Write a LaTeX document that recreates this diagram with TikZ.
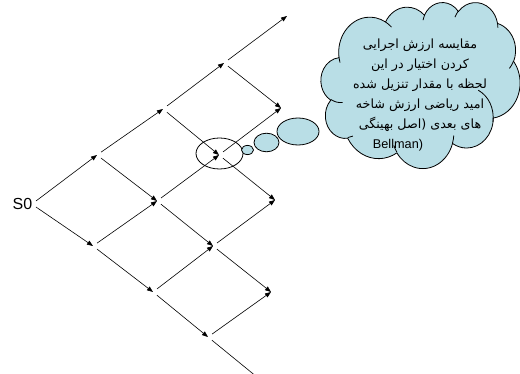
\documentclass[tikz,border=0pt]{standalone}
\usepackage{fontspec}
\setmainfont{Liberation Sans}
\newfontfamily\fa[Script=Arabic]{DejaVu Sans}
\newfontfamily\lat{Liberation Sans}
\TeXXeTstate=1
\usetikzlibrary{arrows.meta,shapes.geometric}
\definecolor{cloudfill}{RGB}{185,222,230}

% One elliptical arc of the cloud outline: name, x radius, y radius,
% start angle and sweep (angles measured on the ellipse, y pointing down)
\newcommand\cloudarcstyle[5]{%
  \pgfmathsetmacro\cloudT{atan2((#2)*sin(#4),(#3)*cos(#4))}%
  \pgfmathsetmacro\cloudD{mod(atan2((#2)*sin((#4)+(#5)),(#3)*cos((#4)+(#5)))-\cloudT+720,360)}%
  \tikzset{#1/.style/.expanded={start angle=\cloudT, delta angle=\cloudD, x radius=#2, y radius=#3}}%
}
% a right-to-left line of the note
\newcommand\rtlline[1]{\hbox{\beginR#1\endR}}

\begin{document}
\begin{tikzpicture}[x=1pt,y=-1pt,
  edge/.style={-{Triangle[length=6pt,width=4.5pt]}, line width=0.6pt, draw=black, shorten <=5pt},
  cloudline/.style={draw=black, line width=0.8pt},
  bubble/.style={ellipse, cloudline, fill=cloudfill, inner sep=0pt}]
\useasboundingbox (0,0) rectangle (520,374);
\clip (0,0) rectangle (520,374);

% lattice points
\node[font=\fontsize{16}{18}\selectfont, inner sep=3.5pt] (s0) at (22.5,204) {S0};
\coordinate (n10) at (97,155);
\coordinate (n11) at (93,246);
\coordinate (n20) at (163,109);
\coordinate (n21) at (157,201);
\coordinate (n22) at (153,292);
\coordinate (n30) at (224,63);
\coordinate (n31) at (219,155);
\coordinate (n32) at (213,246);
\coordinate (n33) at (208,337);
\coordinate (n40) at (287,16);
\coordinate (n41) at (281,108);
\coordinate (n42) at (275,200);
\coordinate (n43) at (271,292);
\coordinate (n44) at (268,386);

% branches
\draw[edge, shorten <=0pt] ([yshift=3pt]s0.east) -- (n10);
\draw[edge, shorten <=0pt] ([yshift=-3pt]s0.east) -- (n11);
\draw[edge] (n10) -- (n20);
\draw[edge] (n10) -- (n21);
\draw[edge] (n11) -- (n21);
\draw[edge] (n11) -- (n22);
\draw[edge] (n20) -- (n30);
\draw[edge] (n20) -- (n31);
\draw[edge] (n21) -- (n31);
\draw[edge] (n21) -- (n32);
\draw[edge] (n22) -- (n32);
\draw[edge] (n22) -- (n33);
\draw[edge] (n30) -- (n40);
\draw[edge] (n30) -- (n41);
\draw[edge] (n31) -- (n41);
\draw[edge] (n31) -- (n42);
\draw[edge] (n32) -- (n42);
\draw[edge] (n32) -- (n43);
\draw[edge] (n33) -- (n43);
\draw[edge] (n33) -- (n44);

% highlighted decision point
\node[ellipse, draw=black, line width=0.8pt, minimum width=47pt, minimum height=31pt, inner sep=0pt] (focus) at (219.5,153.5) {};

% thought bubbles
\node[bubble, minimum width=12pt, minimum height=9.2pt] (b1) at (247.5,150) {};
\node[bubble, minimum width=25pt, minimum height=18.6pt] (b2) at (266.5,142.5) {};
\node[bubble, minimum width=42pt, minimum height=27pt] (b3) at (298,131.5) {};

% cloud callout
\begin{scope}[shift={(321,2)}, x=0.46065pt, y=-0.38426pt]
  \cloudarcstyle{lobeA}{67.53}{91.90}{-190.4875}{123.7805}
  \cloudarcstyle{lobeB}{53.33}{72.67}{-144.1024}{89.9452}
  \cloudarcstyle{lobeC}{43.65}{59.45}{-145.8079}{99.7230}
  \cloudarcstyle{lobeD}{48.57}{65.95}{-130.9861}{117.2417}
  \cloudarcstyle{lobeE}{53.33}{72.73}{-78.7089}{109.0269}
  \cloudarcstyle{lobeF}{67.75}{92.20}{-46.2673}{130.2690}
  \cloudarcstyle{lobeG}{57.85}{78.67}{0.6250}{114.0333}
  \cloudarcstyle{lobeH}{67.52}{92.15}{22.4516}{115.1726}
  \cloudarcstyle{lobeI}{77.20}{105.43}{66.2426}{75.7110}
  \cloudarcstyle{lobeJ}{43.60}{59.18}{-274.9421}{146.7356}
  \cloudarcstyle{lobeK}{43.45}{59.45}{-246.8285}{152.5189}
  \cloudarcstyle{creaseA}{43.45}{59.45}{86.7420}{26.4295}
  \cloudarcstyle{creaseB}{43.60}{59.18}{73.6105}{11.4475}
  \cloudarcstyle{creaseC}{67.52}{92.15}{137.6242}{14.0811}
  \cloudarcstyle{creaseD}{67.52}{92.15}{6.4533}{15.9984}
  \cloudarcstyle{creaseE}{57.85}{78.67}{-70.2924}{81.5707}
  \cloudarcstyle{creaseF}{53.33}{72.73}{30.3180}{19.7821}
  \cloudarcstyle{creaseG}{48.57}{65.95}{-13.7443}{14.8589}
  \cloudarcstyle{creaseH}{48.57}{65.95}{-149.1815}{18.1954}
  \cloudarcstyle{creaseI}{43.65}{59.45}{-163.4943}{17.6864}
  \cloudarcstyle{creaseJ}{67.53}{91.90}{-66.7070}{12.3194}
  \cloudarcstyle{creaseK}{67.53}{91.90}{157.6544}{11.8582}
  \draw[cloudline, fill=cloudfill] (39.00,143.70)
    arc[lobeA] arc[lobeB] arc[lobeC] arc[lobeD] arc[lobeE] arc[lobeF]
    arc[lobeG] arc[lobeH] arc[lobeI] arc[lobeJ] arc[lobeK] -- cycle;
  \draw[cloudline]
    (46.93,261.77) arc[creaseA]
    (69.28,348.99) arc[creaseB]
    (164.78,390.90) arc[creaseC]
    (288.27,347.51) arc[creaseD]
    (341.29,229.54) arc[creaseE]
    (417.98,153.54) arc[creaseF]
    (383.24,54.26) arc[creaseG]
    (290.78,39.52) arc[creaseH]
    (221.41,47.20) arc[creaseI]
    (140.00,51.92) arc[creaseJ]
    (41.27,157.89) arc[creaseK];
\end{scope}

\node[font=\fa\fontsize{12.7}{20}\selectfont, align=center, inner sep=0pt] (note) at (420,94.5)
  {\rtlline{مقایسه ارزش اجرایی}\\
   \rtlline{کردن اختیار در این}\\
   \rtlline{لحظه با مقدار تنزیل شده}\\
   \rtlline{امید ریاضی ارزش شاخه}\\
   \rtlline{های بعدی (اصل بهینگی}\\
   \hbox{\lat Bellman)\hspace*{44pt}}};
\end{tikzpicture}
\end{document}
